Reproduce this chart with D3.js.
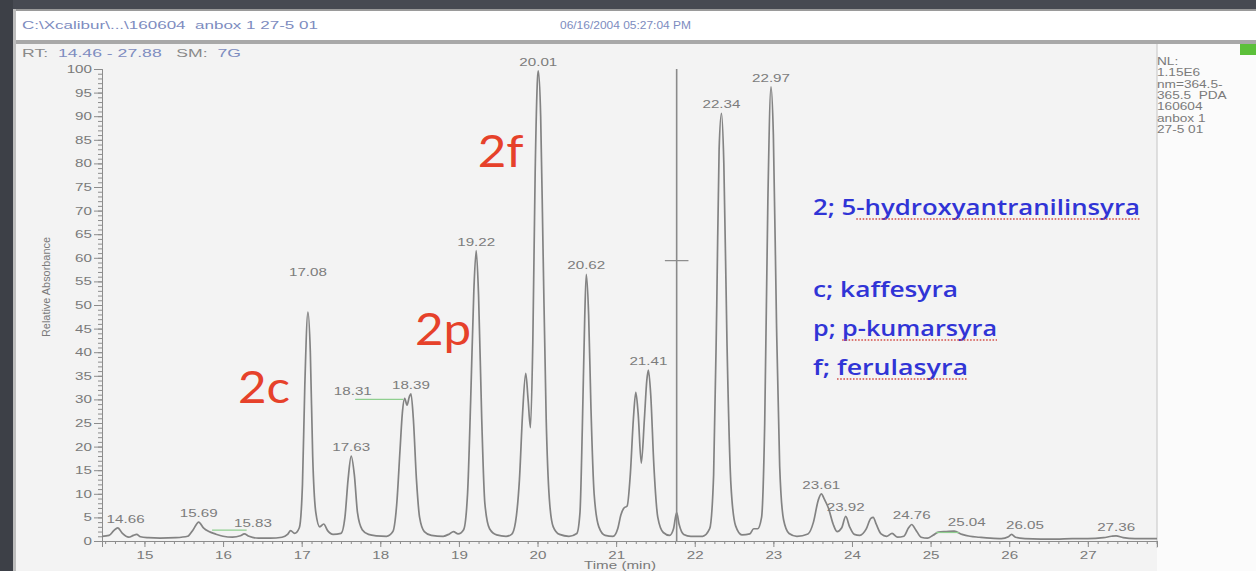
<!DOCTYPE html>
<html><head><meta charset="utf-8">
<script src="https://cdn.jsdelivr.net/npm/d3@7"></script>
<style>body{margin:0;background:#fff;} svg{display:block;} text{white-space:pre;}</style>
</head><body>
<svg id="chart" width="1256" height="571"></svg>
<script>
// ---------- DATA ----------
const xDomain = [14.46, 27.88];
const yDomain = [0, 100];
const xMajorTicks = [15,16,17,18,19,20,21,22,23,24,25,26,27];
const yMajorTicks = [0,5,10,15,20,25,30,35,40,45,50,55,60,65,70,75,80,85,90,95,100];

// chromatogram trace [time (min), relative absorbance]
const trace = [
[14.46,1.0],[14.55,1.2],[14.61,2.2],[14.66,2.8],[14.72,1.6],[14.8,0.8],[14.86,1.2],[14.9,1.4],[14.95,0.9],[15.05,0.7],[15.2,0.6],[15.4,0.7],[15.55,1.0],[15.62,2.4],[15.69,4.0],[15.75,2.8],[15.82,2.0],[15.9,1.5],[16.0,1.0],[16.12,0.8],[16.22,1.1],[16.27,1.5],[16.33,1.0],[16.45,0.6],[16.6,0.6],[16.75,0.8],[16.82,1.4],[16.86,2.2],[16.91,1.6],[16.97,2.8],[17.01,12],[17.04,33],[17.08,48.5],[17.11,40],[17.14,18],[17.18,6],[17.23,3],[17.28,3.6],[17.33,2.2],[17.4,1.4],[17.5,1.6],[17.55,5],[17.59,13],[17.63,18],[17.67,14],[17.71,6],[17.77,2.4],[17.85,1.4],[17.95,1.1],[18.08,1.0],[18.16,2],[18.21,8],[18.25,19],[18.28,27],[18.31,30.2],[18.34,28.8],[18.37,30.6],[18.39,31.2],[18.42,26],[18.46,13],[18.5,5],[18.56,2],[18.65,1.2],[18.8,1.0],[18.88,1.5],[18.93,2.0],[18.99,1.5],[19.06,2.4],[19.11,10],[19.15,30],[19.19,53],[19.22,61.5],[19.25,52],[19.29,26],[19.33,8],[19.39,2.6],[19.48,1.3],[19.6,1.0],[19.67,1.4],[19.72,4],[19.77,13],[19.81,27],[19.85,35.5],[19.88,30],[19.91,24],[19.94,42],[19.97,78],[20.0,98],[20.01,99.6],[20.04,90],[20.07,62],[20.11,26],[20.15,9],[20.2,3],[20.28,1.4],[20.4,1.0],[20.5,1.6],[20.54,6],[20.57,24],[20.6,47],[20.62,56.5],[20.65,48],[20.68,28],[20.72,10],[20.78,3],[20.86,1.2],[20.96,1.0],[21.02,2.6],[21.06,5.5],[21.1,7],[21.14,7.4],[21.18,14],[21.22,26],[21.25,31.5],[21.28,27],[21.32,16.5],[21.36,26],[21.39,34],[21.41,36.2],[21.44,31],[21.48,16],[21.53,5],[21.6,1.8],[21.68,1.2],[21.73,2.6],[21.77,6],[21.8,3.6],[21.86,1.4],[21.95,1.0],[22.1,1.0],[22.19,2.6],[22.24,14],[22.28,50],[22.31,83],[22.34,90.6],[22.37,80],[22.41,42],[22.46,12],[22.52,3.2],[22.6,1.3],[22.7,1.5],[22.75,2.6],[22.8,2.6],[22.85,5],[22.89,25],[22.93,72],[22.97,96.2],[23.0,86],[23.04,46],[23.08,16],[23.13,4.5],[23.2,1.6],[23.3,1.0],[23.44,1.5],[23.51,4],[23.57,8.6],[23.61,10],[23.65,8.8],[23.7,7],[23.76,3.6],[23.81,2.0],[23.87,2.8],[23.92,5.2],[23.97,3],[24.03,1.4],[24.1,1.2],[24.18,2.5],[24.24,4.8],[24.27,5.0],[24.31,3.5],[24.37,1.5],[24.44,1.0],[24.51,1.6],[24.58,0.8],[24.66,1.0],[24.72,2.8],[24.76,3.5],[24.81,2.4],[24.88,0.8],[24.96,0.6],[25.03,1.2],[25.1,1.9],[25.2,2.0],[25.3,2.1],[25.4,1.4],[25.5,1.0],[25.62,0.8],[25.76,0.6],[25.9,0.5],[25.99,0.9],[26.03,1.4],[26.08,0.8],[26.2,0.5],[26.4,0.4],[26.6,0.4],[26.8,0.5],[27.0,0.5],[27.2,0.7],[27.3,1.0],[27.36,1.1],[27.45,0.7],[27.6,0.5],[27.75,0.5],[27.88,0.5]
];

// peak labels (anchor time / value where each label sits)
const peakLabelText = ["14.66","15.69","17.08","17.63","18.39","19.22","20.01","20.62","21.41","22.34","22.97","23.61","23.92","24.76","26.05","27.36"];
const peakLabelTime = [14.76,15.69,17.08,17.63,18.39,19.22,20.01,20.62,21.41,22.34,22.97,23.61,23.92,24.76,26.2,27.36];
const peakLabelValue = [2.8,4.0,55,18,31.2,61.5,99.6,56.5,36.2,90.6,96.2,10,5.2,3.5,1.4,1.1];

// labels moved aside, joined to their peak with a green line
const sideLabelText = ["15.83","18.31","25.04"];
const sideLabelTime = [16.38,17.65,25.46];
const sideLabelValue = [2.4,30.4,2.6];
const sideLineFrom = [15.86,17.68,25.07];
const sideLineTo = [16.30,18.29,25.36];
const sideLineValue = [2.3,30.0,1.8];

// cursor marker
const cursorTime = 21.77;
const cursorMark = 59.4;
const cursorHalfWidth = 0.15;

// red compound annotations
const annoText = ["2c","2p","2f"];
const annoTime = [16.19,18.44,19.24];
const annoValue = [29.2,41.5,79.2];

// legend
const legendLines = ["2; 5-hydroxyantranilinsyra","c; kaffesyra","p; p-kumarsyra","f; ferulasyra"];
const legendUnderlineFrom = [4, -1, 3, 3];   // char index where the spell-check underline starts (-1: none)

const headerPath = "C:\\Xcalibur\\...\\160604  anbox 1 27-5 01";
const headerDate = "06/16/2004 05:27:04 PM";
const infoLines = ["NL:","1.15E6","nm=364.5-","365.5  PDA","160604","anbox 1","27-5 01"];

// ---------- DRAW ----------
const W = 1256, H = 571;
const WIDE = 1.38;   // the screenshot is stretched horizontally
const svg = d3.select("#chart");
const x = d3.scaleLinear().domain(xDomain).range([102, 1157]);
const y = d3.scaleLinear().domain(yDomain).range([541, 69]);
const sans = "Liberation Sans, Arial, sans-serif";

// stretch text horizontally about its anchor point
function widen(sel, k) {
  sel.each(function() {
    const t = d3.select(this);
    const ax = +(t.attr("x") || 0), ay = +(t.attr("y") || 0);
    const old = t.attr("transform") || "";
    t.attr("x", 0).attr("y", 0).attr("transform", `${old} translate(${ax},${ay}) scale(${k},1)`);
  });
}

// window chrome
svg.append("rect").attr("width",W).attr("height",H).attr("fill","#ffffff");
svg.append("rect").attr("x",16).attr("y",44).attr("width",1141).attr("height",H-44).attr("fill","#f3f3f3");
svg.append("rect").attr("x",1157).attr("y",44).attr("width",W-1157).attr("height",H-44).attr("fill","#fbfbfb");
svg.append("rect").attr("x",0).attr("y",0).attr("width",W).attr("height",9).attr("fill","#474a52");
svg.append("rect").attr("x",0).attr("y",9).attr("width",W).attr("height",2).attr("fill","#9a9a9a");
svg.append("rect").attr("x",0).attr("y",0).attr("width",13).attr("height",H).attr("fill","#3d4047");
svg.append("rect").attr("x",13).attr("y",9).attr("width",3).attr("height",H).attr("fill","#bdbdbd");
svg.append("rect").attr("x",16).attr("y",40).attr("width",W-16).attr("height",4).attr("fill","#a8a8a8");
svg.append("line").attr("x1",1157).attr("x2",1157).attr("y1",44).attr("y2",548).attr("stroke","#c4c4c4");
svg.append("rect").attr("x",1240).attr("y",44).attr("width",16).attr("height",11).attr("fill","#5cc03a");

const head = svg.append("g");
head.append("text").attr("x",22).attr("y",29).attr("font-family",sans)
  .attr("font-size",10.5).attr("fill","#7d8cc0").attr("textLength",296).attr("lengthAdjust","spacingAndGlyphs").text(headerPath);
head.append("text").attr("x",560).attr("y",29).attr("font-family",sans)
  .attr("font-size",10.5).attr("fill","#7d8cc0").attr("textLength",131).attr("lengthAdjust","spacingAndGlyphs").text(headerDate);
const rt = head.append("text").attr("x",22).attr("y",57).attr("font-family",sans).attr("font-size",10.5)
  .attr("textLength",219).attr("lengthAdjust","spacingAndGlyphs");
rt.append("tspan").attr("fill","#8a8a8a").text("RT:  ");
rt.append("tspan").attr("fill","#7d8cc0").text(xDomain[0].toFixed(2)+" - "+xDomain[1].toFixed(2));
rt.append("tspan").attr("fill","#8a8a8a").text("   SM:  ");
rt.append("tspan").attr("fill","#7d8cc0").text("7G");

// info block on the right
const info = svg.append("g").selectAll("text").data(infoLines).join("text")
  .attr("x",1157).attr("y",(d,i)=>65+i*11.3)
  .attr("font-family",sans).attr("font-size",10.5).attr("fill","#7a7a7a")
  .text(d=>d);
widen(info, 1.3);

// axes
const axisColor = "#8c8c8c", labelColor = "#7a7a7a";
const yMinor = d3.range(0,101,1);
const xMinor = d3.range(14.5,27.89,0.125).filter(v=>v>=xDomain[0]);
const gy = svg.append("g").attr("transform","translate(102,0)");
gy.call(d3.axisLeft(y).tickValues(yMinor).tickSize(4).tickFormat(""));
gy.append("g").call(d3.axisLeft(y).tickValues(yMajorTicks).tickSize(8).tickPadding(2).tickFormat(d3.format("d")));
gy.selectAll("path,line").attr("stroke",axisColor);
gy.selectAll("text").attr("fill",labelColor).attr("font-size",11).attr("font-family",sans);
widen(gy.selectAll(".tick text"), WIDE);

const gx = svg.append("g").attr("transform","translate(0,541)");
gx.call(d3.axisBottom(x).tickValues(xMinor).tickSize(3).tickFormat(""));
gx.append("g").call(d3.axisBottom(x).tickValues(xMajorTicks).tickSize(6).tickPadding(4).tickFormat(d3.format("d")));
gx.selectAll("path,line").attr("stroke",axisColor);
gx.selectAll("text").attr("fill",labelColor).attr("font-size",11).attr("font-family",sans);
widen(gx.selectAll(".tick text"), WIDE);

svg.append("text").attr("transform","translate(50,287) rotate(-90)").attr("text-anchor","middle")
  .attr("font-family",sans).attr("font-size",10.5).attr("fill",labelColor).attr("textLength",100)
  .attr("lengthAdjust","spacingAndGlyphs").text("Relative Absorbance");
const tl = svg.append("text").attr("x",620).attr("y",569).attr("text-anchor","middle")
  .attr("font-family",sans).attr("font-size",11).attr("fill",labelColor)
  .text("Time (min)");
widen(tl, WIDE);

// trace
const line = d3.line().x(d=>x(d[0])).y(d=>y(d[1])).curve(d3.curveMonotoneX);
svg.append("path").datum(trace).attr("d",line).attr("fill","none")
  .attr("stroke","#838383").attr("stroke-width",1.7).attr("stroke-linejoin","round");

// cursor
svg.append("line").attr("x1",x(cursorTime)).attr("x2",x(cursorTime)).attr("y1",y(0)).attr("y2",y(100))
  .attr("stroke","#8a8a8a").attr("stroke-width",1.6);
svg.append("line").attr("x1",x(cursorTime-cursorHalfWidth)).attr("x2",x(cursorTime+cursorHalfWidth))
  .attr("y1",y(cursorMark)).attr("y2",y(cursorMark)).attr("stroke","#8a8a8a").attr("stroke-width",1.2);

// green side lines
svg.append("g").selectAll("line").data(sideLabelText).join("line")
  .attr("x1",(d,i)=>x(sideLineFrom[i])).attr("x2",(d,i)=>x(sideLineTo[i]))
  .attr("y1",(d,i)=>y(sideLineValue[i])).attr("y2",(d,i)=>y(sideLineValue[i]))
  .attr("stroke","#8fcf8f").attr("stroke-width",1.2);

// peak labels
const pl = svg.append("g").selectAll("text").data(peakLabelText).join("text")
  .attr("x",(d,i)=>x(peakLabelTime[i])).attr("y",(d,i)=>y(peakLabelValue[i])-5)
  .attr("text-anchor","middle").attr("font-family",sans).attr("font-size",11).attr("fill","#7c7c7c")
  .text(d=>d);
widen(pl, WIDE);
const sl = svg.append("g").selectAll("text").data(sideLabelText).join("text")
  .attr("x",(d,i)=>x(sideLabelTime[i])).attr("y",(d,i)=>y(sideLabelValue[i])-3)
  .attr("text-anchor","middle").attr("font-family",sans).attr("font-size",11).attr("fill","#7c7c7c")
  .text(d=>d);
widen(sl, WIDE);

// red annotations
const an = svg.append("g").selectAll("text").data(annoText).join("text")
  .attr("x",(d,i)=>x(annoTime[i])).attr("y",(d,i)=>y(annoValue[i]))
  .attr("font-family","Lato, 'Noto Sans', sans-serif").attr("font-size",44).attr("fill","#e6412a")
  .text(d=>d);
widen(an, 1.12);

// legend
const legendX = 813, legendY = [215, 297, 336, 375], legendWidth = [327, 145, 184, 155];
const lg = svg.append("g");
legendLines.forEach((s,i)=>{
  const t = lg.append("text").attr("x",legendX).attr("y",legendY[i])
    .attr("font-family","'Open Sans', 'Noto Sans', sans-serif").attr("font-weight",600).attr("font-size",21)
    .attr("fill","#3034d6").text(s);
  const node = t.node();
  const natural = node.getComputedTextLength();
  const startNat = legendUnderlineFrom[i] >= 0 ? node.getSubStringLength(0, legendUnderlineFrom[i]) : 0;
  t.attr("textLength",legendWidth[i]).attr("lengthAdjust","spacingAndGlyphs");
  if (legendUnderlineFrom[i] >= 0) {
    const k = legendWidth[i] / natural;
    lg.append("line").attr("x1",legendX + startNat*k).attr("x2",legendX + legendWidth[i])
      .attr("y1",legendY[i]+4).attr("y2",legendY[i]+4)
      .attr("stroke","#d4504a").attr("stroke-width",1.6).attr("stroke-dasharray","1.6,1.6");
  }
});
</script>
</body></html>
